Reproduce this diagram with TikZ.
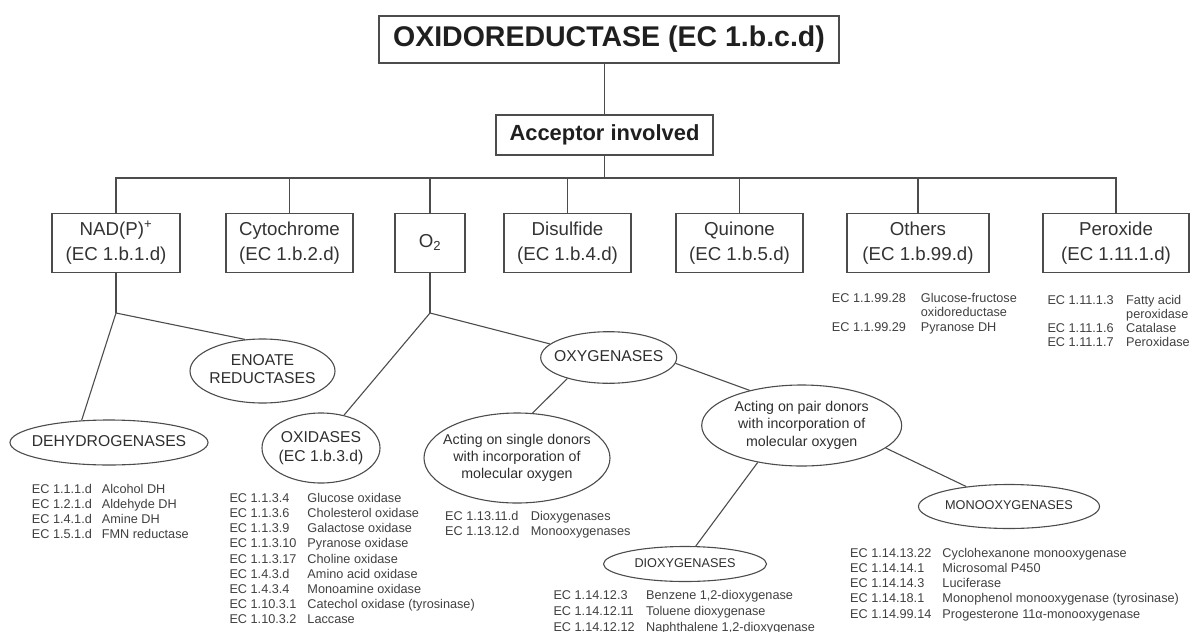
\documentclass[tikz,border=0pt]{standalone}
\usepackage{fontspec}
\setmainfont{Liberation Sans}
\usetikzlibrary{shapes.geometric}
\newcommand{\fsz}[2]{\fontsize{#1}{#2}\selectfont}
% centred label that does not widen the surrounding ellipse
\newcommand{\ctrtext}[1]{\makebox[0pt]{\begin{tabular}{@{}c@{}}#1\end{tabular}}}
\tikzset{
  conn/.style={draw=black!70, line width=1.1pt},
  topbox/.style={draw=black!70, line width=1.1pt, inner sep=0pt, text=black!88},
  acbox/.style={draw=black!70, line width=1.1pt, inner sep=0pt, align=center,
    minimum height=58.7pt, text=black!80, font=\fsz{18.7}{25}},
  ell/.style={draw=black!70, line width=1.1pt, ellipse, inner sep=0pt, text=black!82},
  lst/.style={inner sep=0pt, anchor=base west, text=black!75},
}
\begin{document}
\begin{tikzpicture}[x=1pt,y=-1pt]
\useasboundingbox (0,0) rectangle (1192,632);

% top of the tree
\node[topbox, minimum width=460pt, minimum height=47pt, font=\bfseries\fsz{28.5}{34}]
  (title) at (609,39.5) {OXIDOREDUCTASE (EC 1.b.c.d)};
\node[topbox, minimum width=217pt, minimum height=40pt, font=\bfseries\fsz{21.9}{26}]
  (acc) at (604.5,135) {Acceptor involved};
\draw[conn] (acc.north |- title.south) -- (acc.north);
\coordinate (bus) at (604.5,178);
\draw[conn] (acc.south) -- (bus);

% acceptor classes
\node[acbox, minimum width=128pt] (nad)   at (116,242.7)   {NAD(P)\textsuperscript{+}\\(EC 1.b.1.d)};
\node[acbox, minimum width=127pt] (cyt)   at (289.5,242.7) {Cytochrome\\(EC 1.b.2.d)};
\node[acbox, minimum width=70pt]  (o2)    at (430,242.7)   {O\textsubscript{2}};
\node[acbox, minimum width=127pt] (dis)   at (567.5,242.7) {Disulfide\\(EC 1.b.4.d)};
\node[acbox, minimum width=127pt] (quin)  at (739.5,242.7) {Quinone\\(EC 1.b.5.d)};
\node[acbox, minimum width=142pt] (oth)   at (918,242.7)   {Others\\(EC 1.b.99.d)};
\node[acbox, minimum width=146pt] (perox) at (1116,242.7)  {Peroxide\\(EC 1.11.1.d)};

\draw[conn] (nad.north) -- (nad.north |- bus) -- (perox.north |- bus) -- (perox.north);
\foreach \n in {cyt,o2,dis,quin,oth} \draw[conn] (\n.north) -- (\n.north |- bus);

% NAD(P)+ branch
\node[ell, minimum width=198pt, minimum height=45pt, font=\fsz{15.7}{18.3}]
  (dehyd) at (109,442.5) {\ctrtext{DEHYDROGENASES}};
\node[ell, minimum width=145pt, minimum height=64pt, font=\fsz{15.7}{18.3}]
  (enoate) at (262.5,371) {\ctrtext{ENOATE\\REDUCTASES}};
\coordinate (j1) at (116,313);
\draw[conn] (nad.south) -- (j1);
\draw[conn] (j1) -- (dehyd.141);
\draw[conn] (j1) -- (enoate.119);

% O2 branch
\node[ell, minimum width=118pt, minimum height=70pt, font=\fsz{15.7}{19.5}]
  (oxi) at (321,448) {\ctrtext{OXIDASES\\(EC 1.b.3.d)}};
\node[ell, minimum width=136pt, minimum height=51.6pt, font=\fsz{15.7}{18.3}]
  (oxy) at (608.7,357.5) {\ctrtext{OXYGENASES}};
\node[ell, minimum width=186pt, minimum height=90pt, font=\fsz{14.2}{17}]
  (single) at (517,458) {\ctrtext{Acting on single donors\\with incorporation of\\molecular oxygen}};
\node[ell, minimum width=200pt, minimum height=81pt, font=\fsz{14.2}{17.3}]
  (pair) at (801.7,425.5) {\ctrtext{Acting on pair donors\\with incorporation of\\molecular oxygen}};
\node[ell, minimum width=163pt, minimum height=35pt, font=\fsz{12.7}{15}]
  (dioxy) at (685,564) {\ctrtext{DIOXYGENASES}};
\node[ell, minimum width=181pt, minimum height=44pt, font=\fsz{12.7}{15}]
  (mono) at (1009,506.5) {\ctrtext{MONOOXYGENASES}};

\coordinate (j2) at (430,313);
\draw[conn] (o2.south) -- (j2);
\draw[conn] (j2) -- (oxi.55);
\draw[conn] (j2) -- (oxy.167);
\draw[conn] (oxy.207) -- (single.71);
\draw[conn] (oxy.-5) -- (pair.146);
\draw[conn] (pair.220) -- (dioxy.59);
\draw[conn] (pair.-15) -- (mono.155);

% enzyme lists
\node[lst, font=\fsz{12.7}{15}] (dhlist) at (31.7,493) {%
  \begin{tabular}[t]{@{}p{70pt}@{}l@{}}
  EC 1.1.1.d & Alcohol DH\\
  EC 1.2.1.d & Aldehyde DH\\
  EC 1.4.1.d & Amine DH\\
  EC 1.5.1.d & FMN reductase
  \end{tabular}};
\node[lst, font=\fsz{12.7}{15.2}] (oxilist) at (229.3,502.3) {%
  \begin{tabular}[t]{@{}p{78pt}@{}l@{}}
  EC 1.1.3.4 & Glucose oxidase\\
  EC 1.1.3.6 & Cholesterol oxidase\\
  EC 1.1.3.9 & Galactose oxidase\\
  EC 1.1.3.10 & Pyranose oxidase\\
  EC 1.1.3.17 & Choline oxidase\\
  EC 1.4.3.d & Amino acid oxidase\\
  EC 1.4.3.4 & Monoamine oxidase\\
  EC 1.10.3.1 & Catechol oxidase (tyrosinase)\\
  EC 1.10.3.2 & Laccase
  \end{tabular}};
\node[lst, font=\fsz{12.7}{15}] (singlelist) at (445,520.6) {%
  \begin{tabular}[t]{@{}p{85.7pt}@{}l@{}}
  EC 1.13.11.d & Dioxygenases\\
  EC 1.13.12.d & Monooxygenases
  \end{tabular}};
\node[lst, font=\fsz{12.7}{15.8}] (dioxylist) at (553.3,599.6) {%
  \begin{tabular}[t]{@{}p{92.7pt}@{}l@{}}
  EC 1.14.12.3 & Benzene 1,2-dioxygenase\\
  EC 1.14.12.11 & Toluene dioxygenase\\
  EC 1.14.12.12 & Naphthalene 1,2-dioxygenase
  \end{tabular}};
\node[lst, font=\fsz{12.7}{15.2}] (monolist) at (850,557.3) {%
  \begin{tabular}[t]{@{}p{92.3pt}@{}l@{}}
  EC 1.14.13.22 & Cyclohexanone monooxygenase\\
  EC 1.14.14.1 & Microsomal P450\\
  EC 1.14.14.3 & Luciferase\\
  EC 1.14.18.1 & Monophenol monooxygenase (tyrosinase)\\
  EC 1.14.99.14 & Progesterone 11α-monooxygenase
  \end{tabular}};
\node[lst, font=\fsz{12.7}{14.7}] (othlist) at (831.7,302) {%
  \begin{tabular}[t]{@{}p{89pt}@{}l@{}}
  EC 1.1.99.28 & Glucose-fructose\\
   & oxidoreductase\\
  EC 1.1.99.29 & Pyranose DH
  \end{tabular}};
\node[lst, font=\fsz{12.7}{14.1}] (peroxlist) at (1047.3,304) {%
  \begin{tabular}[t]{@{}p{78.7pt}@{}l@{}}
  EC 1.11.1.3 & Fatty acid\\
   & peroxidase\\
  EC 1.11.1.6 & Catalase\\
  EC 1.11.1.7 & Peroxidase
  \end{tabular}};
\end{tikzpicture}
\end{document}
